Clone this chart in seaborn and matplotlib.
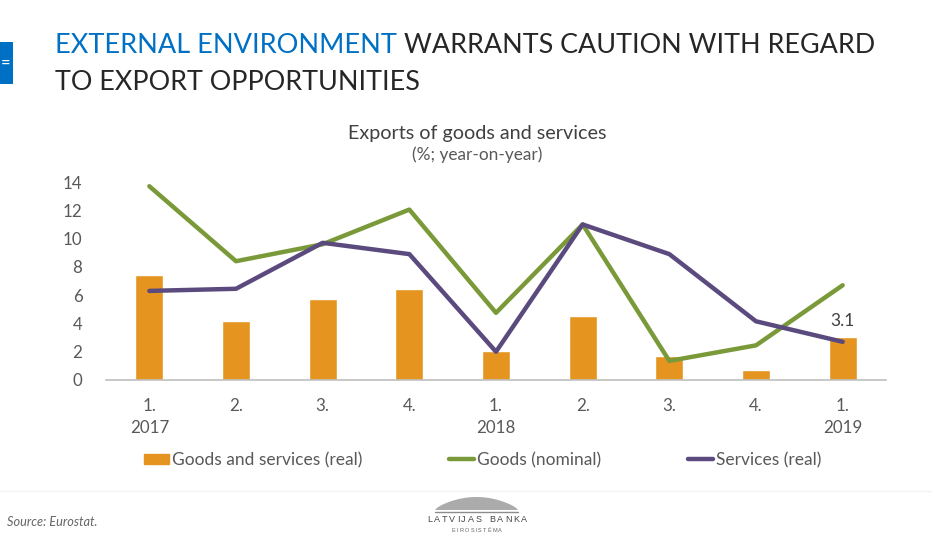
# Exports of goods and services chart
import matplotlib
matplotlib.use("Agg")
import matplotlib.pyplot as plt
import seaborn as sns
import numpy as np
import pandas as pd
from matplotlib.patches import Rectangle, Polygon
from matplotlib.lines import Line2D

quarters = ["1.\n2017", "2.", "3.", "4.", "1.\n2018", "2.", "3.", "4.", "1.\n2019"]
goods_services_real = [7.45, 4.2, 5.75, 6.45, 2.05, 4.5, 1.7, 0.7, 3.05]
goods_nominal = [13.7, 8.4, 9.6, 12.05, 4.75, 11.0, 1.35, 2.45, 6.7]
services_real = [6.3, 6.45, 9.7, 8.9, 2.0, 11.0, 8.9, 4.15, 2.7]
y_ticks = [0, 2, 4, 6, 8, 10, 12, 14]

ORANGE = "#E5951F"
GREEN = "#7A9A3A"
PURPLE = "#5B4A7E"
BLUE = "#0070C4"
GREY = "#595959"

W, H = 932, 538

sns.set_theme(style="white")
plt.rcParams["font.family"] = ["Lato", "DejaVu Sans"]

df = pd.DataFrame({"pos": np.arange(len(quarters)), "bars": goods_services_real,
                   "goods": goods_nominal, "services": services_real})

fig = plt.figure(figsize=(W / 100, H / 100), dpi=100, facecolor="white")
ax = fig.add_axes([106 / W, 1 - 380 / H, 780 / W, 198 / H])

sns.barplot(data=df, x="pos", y="bars", color=ORANGE, saturation=1, width=0.32, ax=ax)
sns.lineplot(data=df, x="pos", y="goods", color=GREEN, lw=3.2, solid_capstyle="round", ax=ax)
sns.lineplot(data=df, x="pos", y="services", color=PURPLE, lw=3.2, solid_capstyle="round", ax=ax)

ax.set_xlim(-0.5, 8.5)
ax.set_ylim(0, 14)
ax.set_yticks(y_ticks)
ax.set_xticks(df["pos"])
ax.set_xticklabels(quarters, linespacing=1.47)
ax.tick_params(axis="both", length=0, labelsize=12.2, labelcolor=GREY)
ax.tick_params(axis="x", pad=13)
ax.tick_params(axis="y", pad=17)
ax.set_xlabel("")
ax.set_ylabel("")
sns.despine(ax=ax, top=True, right=True, bottom=False, left=False)
ax.spines["left"].set_visible(False)
ax.spines["bottom"].set_color("#BFBFBF")
ax.spines["bottom"].set_linewidth(1.2)

ax.text(8, goods_services_real[8] + 0.55, "3.1", ha="center", va="bottom", fontsize=12.5, color="#404040")

# legend
handles = [Rectangle((0, 0), 1, 1, color=ORANGE),
           Line2D([0], [0], color=GREEN, lw=3.2, solid_capstyle="round"),
           Line2D([0], [0], color=PURPLE, lw=3.2, solid_capstyle="round")]
fig.legend(handles, ["Goods and services (real)", "Goods (nominal)", "Services (real)"],
           loc="center", bbox_to_anchor=(483 / W, 1 - 460 / H), ncol=3, frameon=False,
           fontsize=12.5, labelcolor=GREY, handlelength=1.44, handleheight=0.55,
           handletextpad=0.17, columnspacing=5.0)


def ftext(x, y, s, **kw):
    return fig.text(x / W, 1 - y / H, s, **kw)


def spaced_text(x0, x1, y, s, **kw):
    # logo lettering, letters spread evenly between x0 and x1
    rend = fig.canvas.get_renderer()
    parts = [ftext(0, y, c, ha="left", va="center", **kw) for c in s]
    widths = [p.get_window_extent(rend).width if c != " " else 4 for p, c in zip(parts, s)]
    gap = (x1 - x0 - sum(widths)) / (len(s) - 1)
    x = x0
    for p, w in zip(parts, widths):
        p.set_x(x / W)
        x += w + gap


# headings
ftext(55, 45.5, "EXTERNAL ENVIRONMENT", fontsize=19.5, color=BLUE, va="center")
ftext(404, 45.5, "WARRANTS CAUTION WITH REGARD", fontsize=19.4, color="#262626", va="center")
ftext(55, 83, "TO EXPORT OPPORTUNITIES", fontsize=19.35, color="#262626", va="center")
ftext(477, 134, "Exports of goods and services", fontsize=14.2, color="#404040", ha="center", va="center")
ftext(477, 155, "(%; year-on-year)", fontsize=12.4, color=GREY, ha="center", va="center")

# left tab
fig.add_artist(Rectangle((0, 1 - 84 / H), 13 / W, 42 / H, transform=fig.transFigure, color=BLUE, lw=0))
ftext(1, 63, "=", fontsize=12, color="white", va="center")

# footer
fig.add_artist(Line2D([0, 1], [1 - 490.5 / H] * 2, transform=fig.transFigure, color="#F4F4F4", lw=1))
ftext(7, 522, "Source: Eurostat.", fontsize=9.2, style="italic", color="#666666", va="center")

# logo
t = np.linspace(0, 1, 40)
dome = np.column_stack([(435 + 83 * t) / W, 1 - (510 - 13 * np.sin(np.pi * t) ** 0.7) / H])
fig.add_artist(Polygon(dome, closed=True, transform=fig.transFigure, color="#ABABAB", lw=0))
fig.add_artist(Line2D([435 / W, 518 / W], [1 - 511.5 / H] * 2, transform=fig.transFigure, color="#8C8C8C", lw=1))
spaced_text(427, 527, 520, "LATVIJAS BANKA", fontsize=6.5, color="#444444", fontfamily="Liberation Sans")
spaced_text(452, 502, 531, "EIROSISTĒMA", fontsize=4, color="#666666", fontfamily="Liberation Sans")

fig.savefig("out.png", dpi=100)
